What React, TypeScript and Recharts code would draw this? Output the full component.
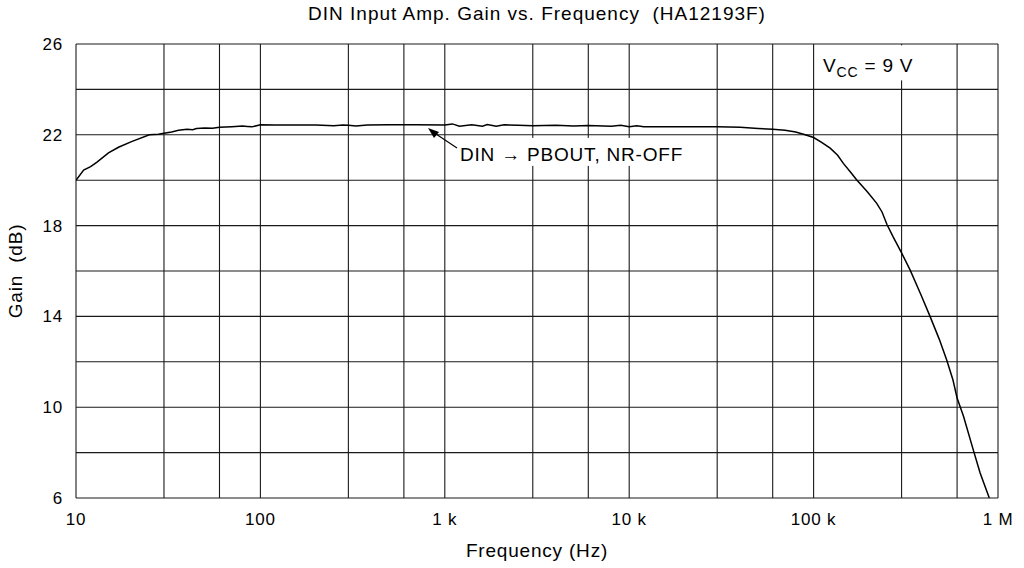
import { LineChart, Line, XAxis, YAxis, CartesianGrid, ReferenceDot } from 'recharts';

const FONT = '"Liberation Sans", Arial, Helvetica, sans-serif';

// measured curve: frequency (Hz) / gain (dB)
const freqHz = [
  10, 11, 12, 13, 15, 17, 20, 25, 28, 30, 33, 36, 40, 43, 45, 50, 55, 60, 70, 80, 85, 90,
  100, 120, 200, 250, 280, 300, 330, 380, 500, 700, 1000, 1100, 1200, 1400, 1600, 1700, 1900,
  2100, 2500, 3000, 4000, 5000, 6000, 8000, 9000, 10000, 11000, 12000, 15000, 20000, 30000,
  40000, 50000, 60000, 70000, 80000, 90000, 100000, 110000, 123000, 135000, 145000, 160000,
  171000, 195000, 220000, 235000, 250000, 270000, 300000, 334000, 380000, 428000, 480000, 527000,
  570000, 600000, 650000, 735000, 800000, 897000,
];
const gainDb = [
  20.0, 20.45, 20.6, 20.8, 21.2, 21.45, 21.7, 22.0, 22.02, 22.07, 22.12, 22.2, 22.24, 22.22,
  22.28, 22.3, 22.29, 22.33, 22.36, 22.39, 22.37, 22.35,
  22.44, 22.43, 22.43, 22.4, 22.43, 22.42, 22.39, 22.43, 22.44, 22.44, 22.43, 22.48, 22.38,
  22.44, 22.38, 22.45, 22.38, 22.44, 22.42, 22.4, 22.42, 22.39, 22.41, 22.38, 22.42, 22.36,
  22.4, 22.36, 22.35, 22.35, 22.35, 22.33, 22.28, 22.24, 22.2, 22.12, 22.0, 21.88, 21.68,
  21.41, 21.1, 20.74, 20.32, 20.02, 19.5, 18.98, 18.6, 18.05, 17.5, 16.8, 16.04, 15.0, 14.0, 13.0,
  12.08, 11.2, 10.4, 9.6, 8.11, 7.1, 6.0,
];

const xTicks = [
  10, 30, 60, 100, 300, 600, 1000, 3000, 6000, 10000, 30000, 60000, 100000, 300000, 600000, 1000000,
];
const xTickLabels: Record<number, string> = {
  10: '10', 100: '100', 1000: '1 k', 10000: '10 k', 100000: '100 k', 1000000: '1 M',
};
const yTicks = [6, 8, 10, 12, 14, 16, 18, 20, 22, 24, 26];

const data = freqHz.map((f, i) => ({ f, gain: gainDb[i] }));

function DinLabel({ cx, cy }: { cx?: number; cy?: number }) {
  if (cx == null || cy == null) return null;
  return (
    <g>
      <rect x={cx - 4} y={cy - 23} width={238} height={28} fill="#fff" />
      <line x1={cx - 3} y1={cy - 13} x2={cx - 27} y2={cy - 29} stroke="#000" strokeWidth={1.2} />
      <polygon points={`${cx - 32},${cy - 33} ${cx - 21},${cy - 29} ${cx - 26},${cy - 23}`} fill="#000" />
      <text x={cx} y={cy} fontFamily={FONT} fontSize={19} letterSpacing={0.8} fill="#000">
        DIN → PBOUT, NR-OFF
      </text>
    </g>
  );
}

function VccLabel({ cx, cy }: { cx?: number; cy?: number }) {
  if (cx == null || cy == null) return null;
  return (
    <g>
      <rect x={cx - 6} y={cy - 27} width={100} height={35} fill="#fff" />
      <text x={cx} y={cy} fontFamily={FONT} fontSize={19} letterSpacing={0.8} fill="#000">
        V<tspan fontSize={14} dy={5}>CC</tspan>
        <tspan dy={-5}> = 9 V</tspan>
      </text>
    </g>
  );
}

export default function App() {
  return (
    <div style={{ position: 'absolute', left: 0, top: 0, width: 1024, height: 568, background: '#fff' }}>
      <div
        style={{
          position: 'absolute', left: 76, width: 922, top: 0, height: 28, lineHeight: '28px',
          textAlign: 'center', fontFamily: FONT, fontSize: 19, letterSpacing: 1, color: '#000',
        }}
      >
        DIN Input Amp. Gain vs. Frequency&nbsp; (HA12193F)
      </div>
      <LineChart width={1024} height={568} data={data} margin={{ top: 44, right: 26, bottom: 0, left: 0 }}>
        <CartesianGrid stroke="#1a1a1a" strokeWidth={1.1} />
        <XAxis
          dataKey="f"
          type="number"
          scale="log"
          domain={[10, 1000000]}
          ticks={xTicks}
          interval={0}
          allowDataOverflow
          tickFormatter={(v: number) => xTickLabels[v] ?? ''}
          tick={{ fill: '#000', fontSize: 17, fontFamily: FONT, letterSpacing: 0.8 }}
          axisLine={false}
          tickLine={false}
          tickMargin={9}
          height={70}
          label={{
            content: ({ viewBox }: any) => (
              <text
                x={viewBox.x + viewBox.width / 2}
                y={viewBox.y + 59}
                textAnchor="middle"
                fontFamily={FONT}
                fontSize={19}
                letterSpacing={0.8}
                fill="#000"
              >
                Frequency (Hz)
              </text>
            ),
          }}
        />
        <YAxis
          type="number"
          domain={[6, 26]}
          ticks={yTicks}
          interval={0}
          allowDataOverflow
          tickFormatter={(v: number) => ((v - 6) % 4 === 0 ? String(v) : '')}
          tick={{ fill: '#000', fontSize: 17, fontFamily: FONT, letterSpacing: 0.8 }}
          axisLine={false}
          tickLine={false}
          tickMargin={7}
          width={76}
          label={{
            content: ({ viewBox }: any) => {
              const x = 15;
              const y = viewBox.y + viewBox.height / 2;
              return (
                <text
                  x={x}
                  y={y}
                  transform={`rotate(-90, ${x}, ${y})`}
                  textAnchor="middle"
                  dominantBaseline="central"
                  fontFamily={FONT}
                  fontSize={19}
                  letterSpacing={0.8}
                  fill="#000"
                >
                  Gain&nbsp; (dB)
                </text>
              );
            },
          }}
        />
        <Line
          type="linear"
          dataKey="gain"
          stroke="#000"
          strokeWidth={1.5}
          dot={false}
          activeDot={false}
          isAnimationActive={false}
        />
        <ReferenceDot x={1209} y={20.85} r={0} ifOverflow="visible" shape={(p: any) => <DinLabel cx={p.cx} cy={p.cy} />} />
        <ReferenceDot x={112500} y={24.75} r={0} ifOverflow="visible" shape={(p: any) => <VccLabel cx={p.cx} cy={p.cy} />} />
      </LineChart>
    </div>
  );
}
